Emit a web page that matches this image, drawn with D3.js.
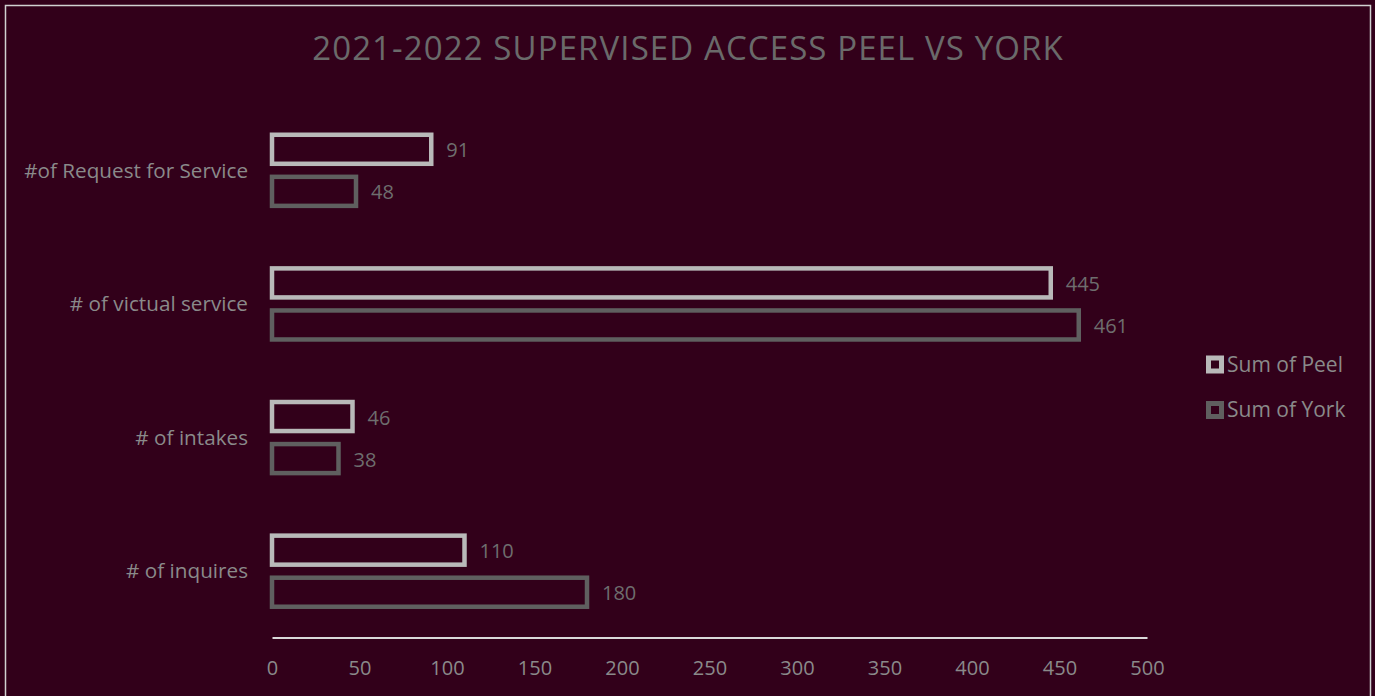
<!DOCTYPE html>
<html>
<head>
<meta charset="utf-8">
<script src="https://cdn.jsdelivr.net/npm/d3@7"></script>
<style>
  html, body { margin: 0; padding: 0; background: #32001a; }
  svg { display: block; }
</style>
</head>
<body>
<svg id="chart" width="1375" height="696"></svg>
<script>
// Categories, top to bottom
const categories = ["#of Request for Service", "# of victual service", "# of intakes", "# of inquires"];
const seriesNames = ["Sum of Peel", "Sum of York"];
const peelValues = [91, 445, 46, 110];
const yorkValues = [48, 461, 38, 180];
const xTicks = [0, 50, 100, 150, 200, 250, 300, 350, 400, 450, 500];
const titleText = "2021-2022 SUPERVISED ACCESS PEEL VS YORK";

const seriesColors = { "Sum of Peel": "#b9b9b9", "Sum of York": "#5f5f5f" };
const font = "'Open Sans', sans-serif";

const rows = categories.map((c, i) => ({
  category: c,
  values: [
    { series: seriesNames[0], value: peelValues[i] },
    { series: seriesNames[1], value: yorkValues[i] }
  ]
}));

const svg = d3.select("#chart");
const W = 1375, H = 696;

svg.append("rect").attr("width", W).attr("height", H).attr("fill", "#32001a");
// chart frame
svg.append("rect")
  .attr("x", 5.5).attr("y", 5.5)
  .attr("width", 1365).attr("height", 720)
  .attr("fill", "none").attr("stroke", "#d0d0d0").attr("stroke-width", 1.5);

svg.append("text")
  .attr("x", 688).attr("y", 60)
  .attr("text-anchor", "middle")
  .attr("font-family", font).attr("font-size", 33)
  .attr("font-weight", 400)
  .attr("letter-spacing", 1.1)
  .attr("fill", "#6a6a6a")
  .text(titleText);

const x = d3.scaleLinear().domain([0, 500]).range([272, 1147]);
const y = d3.scaleBand().domain(categories).range([103.5, 638]).paddingInner(0.468).paddingOuter(0.234);
const yInner = d3.scaleBand().domain(seriesNames).range([0, y.bandwidth()]).paddingInner(0.31);

const groups = svg.append("g").selectAll("g")
  .data(rows).join("g")
  .attr("transform", d => `translate(0,${y(d.category)})`);

groups.selectAll("rect")
  .data(d => d.values).join("rect")
  .attr("x", x(0))
  .attr("y", d => yInner(d.series))
  .attr("width", d => x(d.value) - x(0))
  .attr("height", yInner.bandwidth())
  .attr("fill", "none")
  .attr("stroke", d => seriesColors[d.series])
  .attr("stroke-width", 4.5);

groups.selectAll("text.val")
  .data(d => d.values).join("text")
  .attr("class", "val")
  .attr("x", d => x(d.value) + 15)
  .attr("y", d => yInner(d.series) + yInner.bandwidth() / 2 + 1)
  .attr("dy", "0.35em")
  .attr("font-family", font).attr("font-size", 20)
  .attr("fill", "#6e6e6e")
  .text(d => d.value);

// category labels
svg.append("g").selectAll("text")
  .data(categories).join("text")
  .attr("x", 248)
  .attr("y", d => y(d) + y.bandwidth() / 2)
  .attr("dy", "0.35em")
  .attr("text-anchor", "end")
  .attr("font-family", font).attr("font-size", 20.7)
  .attr("fill", "#8a8a8a")
  .text(d => d);

// value axis
const xAxis = svg.append("g")
  .attr("transform", "translate(0,637.5)")
  .call(d3.axisBottom(x).tickValues(xTicks).tickSize(0).tickPadding(23));
xAxis.select(".domain").attr("stroke", "#d9d9d9").attr("stroke-width", 2);
xAxis.selectAll("text")
  .attr("font-family", font).attr("font-size", 20)
  .attr("fill", "#8a8a8a");

// legend
const legend = svg.append("g").selectAll("g")
  .data(seriesNames).join("g")
  .attr("transform", (d, i) => `translate(1206,${364.5 + i * 45.5})`);
legend.append("rect")
  .attr("x", 2.5).attr("y", -6.5)
  .attr("width", 13).attr("height", 13)
  .attr("fill", "#32001a")
  .attr("stroke", d => seriesColors[d])
  .attr("stroke-width", 5);
legend.append("text")
  .attr("x", 21).attr("dy", "0.35em")
  .attr("font-family", font).attr("font-size", 21)
  .attr("fill", "#8a8a8a")
  .text(d => d);
</script>
</body>
</html>
